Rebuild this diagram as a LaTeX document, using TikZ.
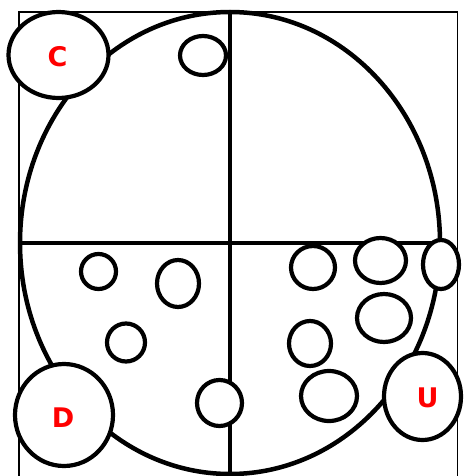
\documentclass[tikz,border=0pt]{standalone}
\usepackage{fontspec}
\setsansfont{DejaVu Sans}
\usetikzlibrary{shapes.geometric}
\begin{document}
\begin{tikzpicture}[x=1pt,y=-1pt,
  blob/.style={ellipse, draw, line width=4.2pt, fill=white, inner sep=0pt},
  lbl/.style={text=red, inner sep=0pt, font=\sffamily\bfseries\fontsize{27}{27}\selectfont},
  frameline/.style={line width=1.6pt},
  heavy/.style={line width=4.5pt}]
\useasboundingbox (0,0) rectangle (466,476);
% frame
\draw[frameline] (19,482) -- (19,12) -- (457.5,12) -- (457.5,482);
% big ellipse and axes
\draw[heavy] (230,243) ellipse [x radius=210pt, y radius=231pt];
\coordinate (hl) at (20,243);
\coordinate (hr) at (440,243);
\coordinate (vt) at (230,12);
\coordinate (vb) at (230,482);
\draw[heavy] (hl) -- (hr);
\draw[heavy] (vt) -- (vb);
% corner nodes
\node[blob, minimum width=100pt, minimum height=86pt] (C) at (58.5,55) {};
\node[lbl] (Ct) at (57.5,56.5) {C};
\node[blob, minimum width=98pt, minimum height=102pt] (D) at (64,415) {};
\node[lbl] (Dt) at (63,417.5) {D};
\node[blob, minimum width=77pt, minimum height=87pt] (U) at (422.5,396.5) {};
\node[lbl] (Ut) at (427.5,398) {U};
% small blobs
\node[blob, minimum width=46pt, minimum height=39pt] (s1) at (203,55.5) {};
\node[blob, minimum width=35pt, minimum height=35pt] (s2) at (98.5,271.5) {};
\node[blob, minimum width=42pt, minimum height=47pt] (s3) at (178,283.5) {};
\node[blob, minimum width=38pt, minimum height=38pt] (s4) at (126,342.5) {};
\node[blob, minimum width=45pt, minimum height=46pt] (s5) at (219.5,403) {};
\node[blob, minimum width=44pt, minimum height=43pt] (s6) at (313,267.5) {};
\node[blob, minimum width=51pt, minimum height=45pt] (s7) at (380.5,260.5) {};
\node[blob, minimum width=36pt, minimum height=49pt] (s8) at (441,264.5) {};
\node[blob, minimum width=54pt, minimum height=48pt] (s9) at (384,318) {};
\node[blob, minimum width=42pt, minimum height=45pt] (s10) at (310,343.5) {};
\node[blob, minimum width=56pt, minimum height=50pt] (s11) at (329,396) {};
\end{tikzpicture}
\end{document}
